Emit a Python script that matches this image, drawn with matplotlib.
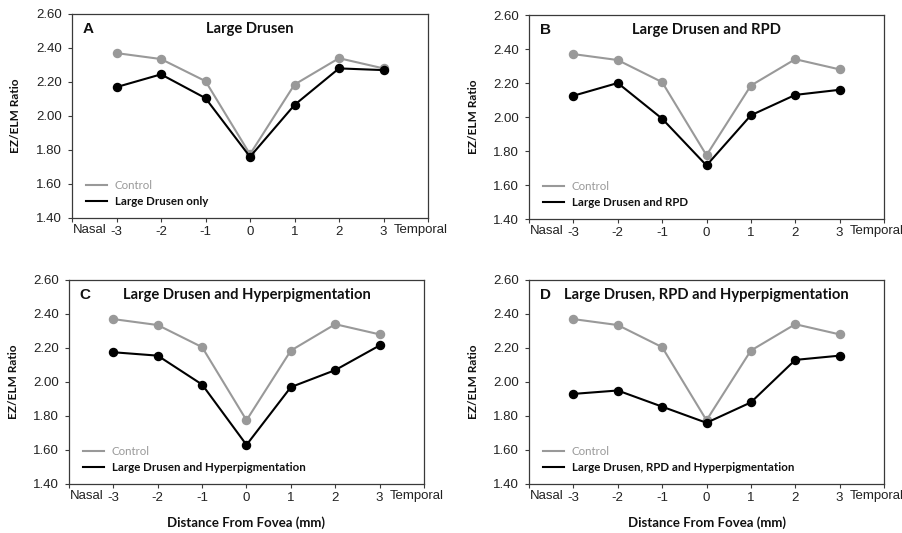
import matplotlib
matplotlib.use("Agg")
import matplotlib.pyplot as plt
from matplotlib.lines import Line2D
import matplotlib.transforms as mtransforms

distance = [-3, -2, -1, 0, 1, 2, 3]
control = [2.37, 2.335, 2.205, 1.775, 2.185, 2.34, 2.28]
large_drusen = [2.17, 2.245, 2.105, 1.76, 2.065, 2.28, 2.27]
drusen_rpd = [2.125, 2.2, 1.99, 1.715, 2.01, 2.13, 2.16]
drusen_hyper = [2.175, 2.155, 1.985, 1.63, 1.97, 2.07, 2.215]
drusen_rpd_hyper = [1.93, 1.95, 1.855, 1.76, 1.88, 2.13, 2.155]

panel_letters = ["A", "B", "C", "D"]
panel_titles = ["Large Drusen", "Large Drusen and RPD",
                "Large Drusen and Hyperpigmentation",
                "Large Drusen, RPD and Hyperpigmentation"]
series_labels = ["Large Drusen only", "Large Drusen and RPD",
                 "Large Drusen and Hyperpigmentation",
                 "Large Drusen, RPD and Hyperpigmentation"]
series = [large_drusen, drusen_rpd, drusen_hyper, drusen_rpd_hyper]
yticks = [1.40, 1.60, 1.80, 2.00, 2.20, 2.40, 2.60]

W, H = 903, 533
fig = plt.figure(figsize=(W / 100, H / 100), dpi=100)

# axes boxes in pixels: left, top, right, bottom
boxes = [(72, 14, 428, 218), (529, 15, 884, 219),
         (69, 280, 424, 484), (529, 280, 884, 484)]

TEXT_FONT = ["Lato", "DejaVu Sans"]
NUM_FONT = ["Liberation Sans", "DejaVu Sans"]
GRAY = "#999999"
SPINE = "#3a3a3a"
TXT = "#222222"

for i, (l, t, r, b) in enumerate(boxes):
    ax = fig.add_axes([l / W, 1 - b / H, (r - l) / W, (b - t) / H])
    ax.plot(distance, control, color=GRAY, lw=1.5, marker="o", ms=5.8,
            mec=GRAY, mfc=GRAY, zorder=3)
    ax.plot(distance, series[i], color="black", lw=1.5, marker="o", ms=5.8,
            mec="black", mfc="black", zorder=4)
    ax.set_xlim(-4, 4)
    ax.set_ylim(1.4, 2.6)
    ax.set_yticks(yticks)
    ax.set_yticklabels([f"{v:.2f}" for v in yticks], fontfamily=NUM_FONT,
                       fontsize=9.5, color=TXT)
    ax.set_xticks(list(range(-4, 5)))
    ax.set_xticklabels([""] + [str(d) for d in distance] + [""],
                       fontfamily=NUM_FONT, fontsize=9.5, color=TXT)
    ax.tick_params(axis="both", direction="out", length=3, width=0.8,
                   color=SPINE, pad=3)
    ax.tick_params(axis="y", pad=4)
    for s in ax.spines.values():
        s.set_color(SPINE)
        s.set_linewidth(0.9)

    trans = mtransforms.blended_transform_factory(ax.transData, ax.transAxes)
    ax.text(-3.22, -0.03, "Nasal", transform=trans, ha="right", va="top",
            fontfamily=NUM_FONT, fontsize=9.5, color=TXT)
    ax.text(3.22, -0.03, "Temporal", transform=trans, ha="left", va="top",
            fontfamily=NUM_FONT, fontsize=9.5, color=TXT)

    ax.text(0.03, 0.925, panel_letters[i], transform=ax.transAxes,
            ha="left", va="center", fontfamily=NUM_FONT, fontweight="bold",
            fontsize=11, color="#111111")
    ax.text(0.5, 0.925, panel_titles[i], transform=ax.transAxes,
            ha="center", va="center", fontfamily=TEXT_FONT, fontweight="bold",
            fontsize=10.6, color="#111111")

    ax.set_ylabel("EZ/ELM Ratio", fontfamily=TEXT_FONT, fontweight="bold",
                  fontsize=8.6, color="#111111")
    ax.yaxis.set_label_coords(-0.142, 0.5)
    if i >= 2:
        ax.set_xlabel("Distance From Fovea (mm)", fontfamily=TEXT_FONT,
                      fontweight="bold", fontsize=9.5, color="#111111")
        ax.xaxis.set_label_coords(0.5, -0.16)

    handles = [Line2D([], [], color=GRAY, lw=1.5),
               Line2D([], [], color="black", lw=1.5)]
    leg = ax.legend(handles, ["Control", series_labels[i]], loc="lower left",
                    bbox_to_anchor=(0.02, 0.02), frameon=False,
                    handlelength=1.8, handletextpad=0.7, labelspacing=0.4,
                    borderaxespad=0.2,
                    prop={"family": TEXT_FONT, "size": 8.3, "weight": "bold"})
    txts = leg.get_texts()
    txts[0].set_color(GRAY)
    txts[0].set_fontweight("normal")
    txts[1].set_color("#111111")

fig.savefig("out.png", dpi=100)
